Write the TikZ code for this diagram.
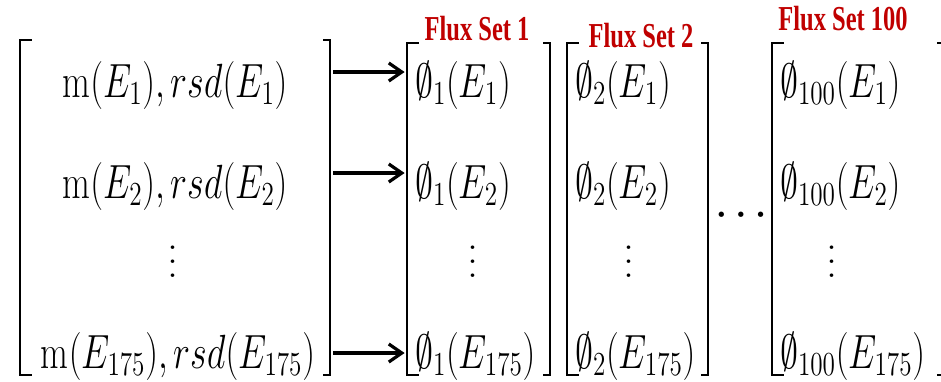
\RequirePackage{fix-cm}
\documentclass[tikz,border=0pt]{standalone}
\usepackage{fontspec}
\usepackage{graphicx}
\usetikzlibrary{arrows.meta,positioning}

\definecolor{fluxred}{RGB}{192,0,0}
\newfontfamily\fluxfont{Liberation Serif}
\newcommand{\sq}[1]{\scalebox{0.75}[1]{$#1$}}
\newcommand{\fluxlabel}[1]{\scalebox{0.7}[1]{\fluxfont\bfseries #1}}
\newcommand{\vdotsbig}{\vbox{\baselineskip=7pt\lineskiplimit=0pt\hbox{.}\hbox{.}\hbox{.}}}

\begin{document}
\begin{tikzpicture}[x=0.5pt, y=-0.5pt, >={Straight Barb[length=6.5pt,width=9pt]},
  colbox/.style={minimum width=#1, minimum height=166pt, inner sep=0},
  entry/.style={inner sep=0, font=\fontsize{24}{28}\selectfont, text height=25pt, text depth=0pt},
  fentry/.style={entry, anchor=west, xshift=4pt},
  vd/.style={inner sep=0, font=\fontsize{22}{26}\selectfont},
  brk/.style={line width=1pt},
  arr/.style={->, line width=1.6pt},
  flux/.style={inner sep=0, text=fluxred, font=\fontsize{17.5}{20}\selectfont}]
  \clip (0,0) rectangle (941,381);

  % the four columns
  \node[colbox=155pt, minimum height=167.5pt] (Lm) at (175,207.5) {};
  \node[colbox=71.5pt] (F1) at (478.5,209) {};
  \node[colbox=70.5pt] (F2) at (637.5,209) {};
  \node[colbox=86pt] (Fh) at (858,209) {};

  % input column
  \node[entry] (l1) at (175,72) {\sq{\mathrm{m}(E_1), rsd(E_1)}};
  \node[entry] (l2) at (175,173) {\sq{\mathrm{m}(E_2), rsd(E_2)}};
  \node[vd] (l3) at (173,262) {\vdotsbig};
  \node[entry] (l4) at (178,343) {\sq{\mathrm{m}(E_{175}), rsd(E_{175})}};

  % flux sets
  \node[fentry] (a1) at (F1.west |- l1) {\sq{\emptyset_{1}(E_1)}};
  \node[fentry] (a2) at (F1.west |- l2) {\sq{\emptyset_{1}(E_2)}};
  \node[vd, xshift=33pt] (a3) at (F1.west |- l3) {\vdotsbig};
  \node[fentry] (a4) at (F1.west |- l4) {\sq{\emptyset_{1}(E_{175})}};

  \node[fentry] (b1) at (F2.west |- l1) {\sq{\emptyset_{2}(E_1)}};
  \node[fentry] (b2) at (F2.west |- l2) {\sq{\emptyset_{2}(E_2)}};
  \node[vd, xshift=31pt] (b3) at (F2.west |- l3) {\vdotsbig};
  \node[fentry] (b4) at (F2.west |- l4) {\sq{\emptyset_{2}(E_{175})}};

  \node[fentry] (c1) at (Fh.west |- l1) {\sq{\emptyset_{100}(E_1)}};
  \node[fentry] (c2) at (Fh.west |- l2) {\sq{\emptyset_{100}(E_2)}};
  \node[vd, xshift=30pt] (c3) at (Fh.west |- l3) {\vdotsbig};
  \node[fentry] (c4) at (Fh.west |- l4) {\sq{\emptyset_{100}(E_{175})}};

  \node[inner sep=0, font=\fontsize{5.5}{7}\selectfont] (hd) at (741,215) {$\bullet\kern4pt\bullet\kern4pt\bullet$};

  \node[flux] (t1) at (477,29) {\fluxlabel{Flux Set 1}};
  \node[flux] (t2) at (641,36) {\fluxlabel{Flux Set 2}};
  \node[flux] (th) at (843,19) {\fluxlabel{Flux Set 100}};

  % brackets
  \foreach \col in {Lm,F1,F2,Fh} {
    \draw[brk] ([xshift=6pt]\col.north west) -- (\col.north west) -- (\col.south west) -- ([xshift=6pt]\col.south west);
    \draw[brk] ([xshift=-3.5pt]\col.north east) -- (\col.north east) -- (\col.south east) -- ([xshift=-3.5pt]\col.south east);
  }

  % arrows
  \draw[arr] ([xshift=1.5pt]Lm.east |- l1) -- ([xshift=-1pt]F1.west |- l1);
  \draw[arr] ([xshift=1.5pt]Lm.east |- l2) -- ([xshift=-1pt]F1.west |- l2);
  \draw[arr] ([xshift=1.5pt,yshift=-5pt]Lm.east |- l4) -- ([xshift=-1pt,yshift=-5pt]F1.west |- l4);
\end{tikzpicture}
\end{document}
